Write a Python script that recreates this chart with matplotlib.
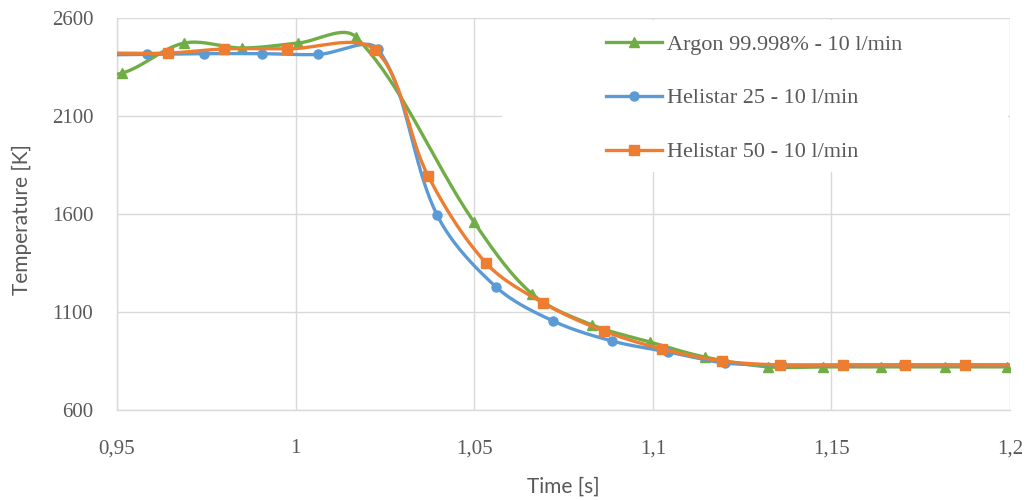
import numpy as np
import matplotlib
matplotlib.use('Agg')
import matplotlib.pyplot as plt
import matplotlib.patches as patches
from matplotlib.lines import Line2D

# measured points (time [s], temperature [K])
argon_t = [0.935, 0.9514, 0.9688, 0.9850, 1.0007, 1.0169, 1.0499, 1.0662, 1.0830,
           1.0992, 1.1146, 1.1323, 1.1476, 1.1639, 1.1818, 1.1992]
argon_T = [2300, 2319, 2472, 2447, 2472, 2503, 1560, 1192, 1034,
           947, 870, 820, 820, 820, 820, 820]

h25_t = [0.942, 0.9584, 0.9744, 0.9906, 1.0063, 1.0231, 1.0396, 1.0561, 1.0721,
         1.0886, 1.1043, 1.1202, 1.1362, 1.1530, 1.1700, 1.1874, 1.2040]
h25_T = [2411, 2414, 2418, 2418, 2414, 2440, 1595, 1228, 1054,
         952, 896, 840, 830, 830, 830, 830, 830]

h50_t = [0.948, 0.9643, 0.9800, 0.9976, 1.0222, 1.0371, 1.0533, 1.0693, 1.0863,
         1.1026, 1.1194, 1.1356, 1.1532, 1.1706, 1.1874, 1.2040]
h50_T = [2421, 2421, 2442, 2442, 2437, 1794, 1350, 1146, 1003,
         911, 850, 830, 830, 830, 830, 830]

labels = ['Argon 99.998% - 10 l/min', 'Helistar 25 - 10 l/min', 'Helistar 50 - 10 l/min']
colors = ['#70AD47', '#5B9BD5', '#ED7D31']
markers = ['^', 'o', 's']

xmin, xmax = 0.95, 1.2
ymin, ymax = 600, 2600
gray = '#595959'
gridc = '#D9D9D9'


def smooth(xs, ys, n=40, tension=1/3.):
    # excel-like smoothed line: bezier with tangents weighted by segment length (screen space)
    sx = 893.0 / (xmax - xmin)
    sy = 392.0 / (ymax - ymin)
    p = np.column_stack([(np.array(xs) - xmin) * sx, (np.array(ys) - ymin) * sy])
    out = []
    for i in range(len(p) - 1):
        p0 = p[i - 1] if i > 0 else p[i]
        p1 = p[i]
        p2 = p[i + 1]
        p3 = p[i + 2] if i + 2 < len(p) else p[i + 1]
        d01 = np.hypot(*(p1 - p0))
        d12 = np.hypot(*(p2 - p1))
        d23 = np.hypot(*(p3 - p2))
        f1 = d12 / (d01 + d12) if d01 + d12 > 0 else 0
        f2 = d12 / (d12 + d23) if d12 + d23 > 0 else 0
        c1 = p1 + (p2 - p0) * f1 * tension
        c2 = p2 - (p3 - p1) * f2 * tension
        u = np.linspace(0, 1, n)[:, None]
        b = (1 - u)**3 * p1 + 3 * (1 - u)**2 * u * c1 + 3 * (1 - u) * u**2 * c2 + u**3 * p2
        out.append(b if i == 0 else b[1:])
    out = np.vstack(out)
    return out[:, 0] / sx + xmin, out[:, 1] / sy + ymin


fig = plt.figure(figsize=(10.31, 5.01), dpi=100)
ax = fig.add_axes([117 / 1031, 1 - 410 / 501, 893 / 1031, 392 / 501])

series = [(argon_t, argon_T), (h25_t, h25_T), (h50_t, h50_T)]
for k, (t, T) in enumerate(series):
    sxs, sys_ = smooth(t, T)
    ax.plot(sxs, sys_, color=colors[k], lw=2.4, zorder=3 + k, solid_capstyle='round')
    ax.plot(t, T, ls='none', marker=markers[k], color=colors[k],
            markersize=7 if k == 0 else 6.5, zorder=3 + k)

ax.set_xlim(xmin, xmax)
ax.set_ylim(ymin, ymax)
ax.set_xticks([0.95, 1.0, 1.05, 1.1, 1.15, 1.2])
ax.set_xticklabels(['0,95', '1', '1,05', '1,1', '1,15', '1,2'])
ax.set_yticks([600, 1100, 1600, 2100, 2600])
ax.grid(True, color=gridc, lw=1.0)
ax.set_axisbelow(True)
for s in ['top', 'right']:
    ax.spines[s].set_visible(False)
for s in ['left', 'bottom']:
    ax.spines[s].set_color(gridc)
    ax.spines[s].set_linewidth(1.0)
ax.tick_params(length=0, labelcolor=gray, labelsize=15)
ax.tick_params(axis='y', pad=17)
ax.tick_params(axis='x', pad=21)
for lab in ax.get_xticklabels() + ax.get_yticklabels():
    lab.set_family('Liberation Serif')

# white legend area hiding grid
rect = patches.Rectangle(((502 - 117) / 893, (410 - 172) / 392), (1008 - 502) / 893, (172 - 20) / 392,
                         transform=ax.transAxes, facecolor='white', edgecolor='none', zorder=1)
ax.add_patch(rect)

handles = [Line2D([], [], color=colors[k], lw=2.4, marker=markers[k], markersize=6.5)
           for k in range(3)]
leg = ax.legend(handles, labels, loc='upper left', bbox_to_anchor=(606 / 1031, 1 - 34 / 501),
                bbox_transform=fig.transFigure, frameon=False, handlelength=2.5,
                handletextpad=0.25, labelspacing=1.5, borderpad=0, borderaxespad=0,
                prop={'family': 'Liberation Serif', 'size': 16})
for txt in leg.get_texts():
    txt.set_color(gray)

fig.text(22 / 1031, 1 - 220 / 501, 'Temperature [K]', rotation=90, ha='center', va='center',
         color=gray, fontsize=15, family='Lato')
fig.text(563 / 1031, 1 - 487 / 501, 'Time [s]', ha='center', va='center',
         color=gray, fontsize=15, family='Lato')

fig.savefig('out.png', dpi=100)
